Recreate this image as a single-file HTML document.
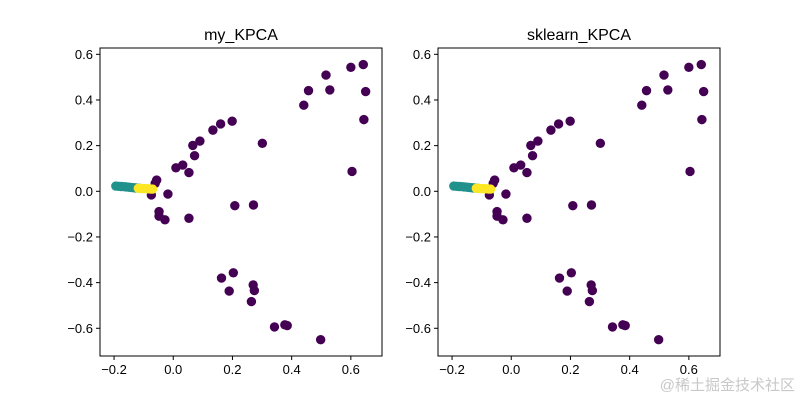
<!DOCTYPE html>
<html><head><meta charset="utf-8"><style>
body{margin:0;background:#fff;}
svg text{font-family:"Liberation Sans","DejaVu Sans",sans-serif;fill:#000;}
</style></head><body>
<svg id="fig" width="800" height="400" xmlns="http://www.w3.org/2000/svg"></svg>
<script>
const purpleX=[0.642,0.600,0.516,0.457,0.529,0.650,0.441,0.644,0.199,0.160,0.134,0.301,0.090,0.066,0.072,0.009,0.032,0.053,0.604,-0.056,-0.061,-0.018,-0.074,0.208,0.271,-0.048,-0.048,-0.028,0.053,0.203,0.163,0.270,0.189,0.274,0.264,0.342,0.377,0.385,0.498];
const purpleY=[0.555,0.543,0.509,0.441,0.444,0.437,0.377,0.314,0.307,0.295,0.268,0.210,0.220,0.201,0.156,0.103,0.115,0.082,0.087,0.049,0.035,-0.012,-0.016,-0.063,-0.060,-0.089,-0.109,-0.125,-0.118,-0.357,-0.380,-0.410,-0.437,-0.435,-0.483,-0.594,-0.585,-0.588,-0.650];
const tealX=[-0.194,-0.185,-0.175,-0.165,-0.158,-0.150,-0.142,-0.135,-0.128,-0.120,-0.112];
const tealY=[0.023,0.022,0.021,0.020,0.019,0.018,0.017,0.016,0.015,0.014,0.013];
const yellowX=[-0.118,-0.112,-0.106,-0.100,-0.094,-0.088,-0.082,-0.076,-0.070];
const yellowY=[0.013,0.013,0.012,0.012,0.012,0.011,0.011,0.010,0.010];
const xTicks=[-0.2,0.0,0.2,0.4,0.6];
const yTicks=[0.6,0.4,0.2,0.0,-0.2,-0.4,-0.6];
const titles=["my_KPCA","sklearn_KPCA"];
const NS="http://www.w3.org/2000/svg";
const svg=document.getElementById('fig');
function mk(t,a,p){const e=document.createElementNS(NS,t);for(const k in a)e.setAttribute(k,a[k]);(p||svg).appendChild(e);return e;}
function fmt(v){return (v<0?"\u2212":"")+Math.abs(v).toFixed(1);}
const offsets=[0,338];
offsets.forEach((off,pi)=>{
  const L=100+off,R=382+off,T=48,B=356;
  const sx=v=>173.25+off+v*296, sy=v=>191.3-v*228.3;
  const g=mk('g',{});
  
  
  const pts=mk('g',{},g);
  
  
  const draw=(xs,ys,c,name)=>xs.forEach((x,i)=>{const ci=mk('circle',{cx:sx(x),cy:sy(ys[i]),r:4.7,fill:c},pts);
    
    });
  draw(purpleX,purpleY,'#440154','point-class-0');
  draw(tealX,tealY,'#21918c','point-class-1');
  draw(yellowX,yellowY,'#fde725','point-class-2');
  const fr=mk('rect',{x:L,y:T,width:R-L,height:B-T,fill:'none',stroke:'#000','stroke-width':1},g);
  
  
  xTicks.forEach(v=>{const x=sx(v);mk('line',{x1:x,x2:x,y1:B,y2:B+4,stroke:'#000'},g);
    const t=mk('text',{x:x,y:B+18,'text-anchor':'middle','font-size':13},g);t.textContent=fmt(v);
    
    });
  yTicks.forEach(v=>{const y=sy(v);mk('line',{x1:L-4,x2:L,y1:y,y2:y,stroke:'#000'},g);
    const t=mk('text',{x:L-7,y:y+4.5,'text-anchor':'end','font-size':13},g);t.textContent=fmt(v);
    
    });
  const tt=mk('text',{x:(L+R)/2,y:40,'text-anchor':'middle','font-size':16},g);tt.textContent=titles[pi];
  
  
});
const wm=mk('text',{x:795,y:390,'text-anchor':'end','font-size':15,style:'fill:#c8c8c8;font-family:"Liberation Sans","Noto Sans CJK SC",sans-serif'});
wm.textContent="@稀土掘金技术社区";


</script>
</body></html>
